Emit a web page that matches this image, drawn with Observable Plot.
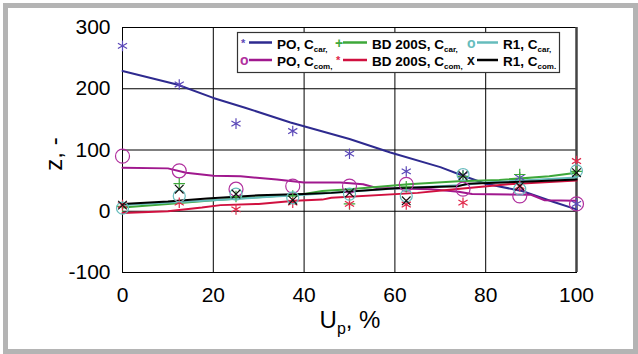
<!DOCTYPE html>
<html>
<head>
<meta charset="utf-8">
<script src="https://cdn.jsdelivr.net/npm/d3@7"></script>
<script src="https://cdn.jsdelivr.net/npm/@observablehq/plot@0.6"></script>
<style>
  html, body { margin: 0; padding: 0; background: #fff; }
  #wrap { position: relative; width: 638px; height: 354px; overflow: hidden; background: #fff; }
  #frame { position: absolute; left: 3px; top: 3px; width: 635px; height: 351px; box-sizing: border-box; border: 5px solid #b4b4b4; }
  #chart, #overlay { position: absolute; left: 0; top: 0; }
</style>
</head>
<body>
<div id="wrap">
  <div id="frame"></div>
  <div id="chart"></div>
  <svg id="overlay" width="638" height="354"></svg>
</div>
<script>
// ---- data ----
const xTicks = [0, 20, 40, 60, 80, 100];
const yTicks = [-100, 0, 100, 200, 300];
const markerX = [0, 12.5, 25, 37.5, 50, 62.5, 75, 87.5, 100];

// measured points (markers)
const poCarPts  = [270, 207, 143, 131, 94, 65, 59, 55, 12];
const poComPts  = [90, 66, 36, 41, 41, 44, 36, 25, 12];
const bdCarPts  = [8, 45, 24, 25, 12, 40, 57, 60, 65];
const bdComPts  = [10, 14, 3, 14, 12, 11, 14, 41, 82];
const r1CarPts  = [5, 25, 28, 22, 28, 25, 60, 36, 66];
const r1ComPts  = [10, 36, 28, 18, 30, 17, 58, 41, 63];

// model lines
const poCarLineX = [0, 12, 20, 27, 37, 50, 59, 70, 75, 80, 88, 95, 100];
const poCarLineY = [229, 207, 185, 169, 145, 118, 96, 72, 58, 45, 33, 15, 3];
const poComLineX = [0, 10, 14, 20, 26, 34, 40, 48, 53, 56, 68, 74, 77, 90, 93, 100];
const poComLineY = [71, 70, 63, 58, 57, 52, 47, 47, 44, 38, 36, 32, 28, 27, 18, 17];
const bdCarLineX = [0, 10, 20, 30, 40, 44, 50, 63, 74, 83, 94, 100];
const bdCarLineY = [6, 12, 18, 23, 28, 33, 36, 44, 49, 51, 57, 63];
const bdComLineX = [0, 10, 17.5, 21.6, 30, 38, 44, 46, 65, 72, 85, 100];
const bdComLineY = [-3, 0, 6, 10, 12, 17, 19, 22, 30, 35, 44, 50];
const r1CarLineX = [0, 20, 40, 60, 75, 80, 100];
const r1CarLineY = [10, 18, 27, 37, 43, 47, 55];
const r1ComLineX = [0, 10, 18.6, 30, 40, 46, 61, 74, 76, 91, 100];
const r1ComLineY = [12, 16, 21, 26, 28, 30, 38, 41, 45, 49, 52];

const seriesNames = ["PO", "PO", "BD 200S", "BD 200S", "R1", "R1"];
const seriesSubs  = ["car", "com", "car", "com", "car", "com"];
const seriesEnds  = [",", ",", ",", ",", ",", "."];
const legendGlyphs = ["*", "o", "+", "*", "o", "x"];

const xTitle = ["U", "p", ", %"];
const yTitle = "z, -";

// ---- styles ----
const series = [
  {pts: poCarPts, lx: poCarLineX, ly: poCarLineY, line: "#2e2a8f", mark: "#5b48b8", symbol: "asterisk", r: 5},
  {pts: poComPts, lx: poComLineX, ly: poComLineY, line: "#a0188e", mark: "#b0309e", symbol: "circle", r: 7},
  {pts: bdCarPts, lx: bdCarLineX, ly: bdCarLineY, line: "#3ea83a", mark: "#3ea83a", symbol: "plus", r: 3.8},
  {pts: bdComPts, lx: bdComLineX, ly: bdComLineY, line: "#d0103f", mark: "#e0284a", symbol: "asterisk", r: 5},
  {pts: r1CarPts, lx: r1CarLineX, ly: r1CarLineY, line: "#66bcbc", mark: "#66bcbc", symbol: "circle", r: 6},
  {pts: r1ComPts, lx: r1ComLineX, ly: r1ComLineY, line: "#000000", mark: "#111111", symbol: "times", r: 4}
];

const lineOrder = [0, 1, 2, 4, 3, 5];
const marks = [
  Plot.ruleX(xTicks, {stroke: "#000", strokeWidth: 1}),
  Plot.ruleY(yTicks, {stroke: "#000", strokeWidth: 1}),
  Plot.frame({stroke: "#000"}),
  Plot.ruleX([100], {stroke: "#444", strokeWidth: 2.5})
];
for (const i of lineOrder) {
  const s = series[i];
  marks.push(Plot.line(s.lx.map((x, k) => ({x, y: s.ly[k]})), {x: "x", y: "y", stroke: s.line, strokeWidth: 2}));
}
for (const s of series) {
  marks.push(Plot.dot(markerX.map((x, k) => ({x, y: s.pts[k]})), {
    x: "x", y: "y", symbol: s.symbol, r: s.r, stroke: s.mark, fill: "none", strokeWidth: 1.2
  }));
}
marks.push(Plot.axisX({ticks: xTicks, tickSize: 0, tickPadding: 15, fontSize: 21, label: null, tickFormat: d => String(d)}));
marks.push(Plot.axisY({ticks: yTicks, tickSize: 0, tickPadding: 12, fontSize: 21, label: null, tickFormat: d => String(d)}));

const chart = Plot.plot({
  width: 638, height: 354,
  marginLeft: 122, marginRight: 62, marginTop: 27, marginBottom: 82,
  x: {domain: [0, 100]},
  y: {domain: [-100, 300]},
  style: {fontFamily: "'Liberation Sans', Arial, sans-serif", background: "transparent", color: "#000"},
  marks
});
document.getElementById("chart").appendChild(chart);

// ---- overlay: axis titles and legend ----
const ov = d3.select("#overlay").style("font-family", "'Liberation Sans', Arial, sans-serif");

const xt = ov.append("text").attr("x", 350).attr("y", 328).attr("text-anchor", "middle").attr("font-size", 24);
xt.append("tspan").text(xTitle[0]);
xt.append("tspan").attr("font-size", 16).attr("dy", 6).text(xTitle[1]);
xt.append("tspan").attr("dy", -6).text(xTitle[2]);

ov.append("text").attr("transform", "translate(62,154) rotate(-90)").attr("text-anchor", "middle")
  .attr("font-size", 24).text(yTitle);

ov.append("rect").attr("x", 237.5).attr("y", 32.5).attr("width", 322).attr("height", 40)
  .attr("fill", "#fff").attr("stroke", "#333").attr("stroke-width", 1.2);

const colX = [240, 335, 467];
const lineX0 = [249, 343, 477];
const lineX1 = [272, 367, 498];
const textX = [277, 372, 503];
const rowBase = [48.5, 66];
const rowLine = [42.5, 60];
for (let i = 0; i < 6; i++) {
  const col = Math.floor(i / 2), row = i % 2;
  const s = series[i];
  const g = legendGlyphs[i];
  const small = g === "*";
  ov.append("text").attr("x", colX[col] + (small ? 1 : 0)).attr("y", small ? rowBase[row] - 2 : rowBase[row] - 1)
    .attr("font-size", small ? 11 : 14).attr("font-weight", "bold").attr("fill", s.mark).text(g);
  ov.append("line").attr("x1", lineX0[col]).attr("x2", lineX1[col]).attr("y1", rowLine[row]).attr("y2", rowLine[row])
    .attr("stroke", s.line).attr("stroke-width", 2.5);
  const t = ov.append("text").attr("x", textX[col]).attr("y", rowBase[row]).attr("font-size", 13.5).attr("font-weight", "bold");
  t.append("tspan").text(seriesNames[i] + ", C");
  t.append("tspan").attr("font-size", 8).attr("dy", 3).text(seriesSubs[i]);
  t.append("tspan").attr("font-size", 8).text(seriesEnds[i]);
}
</script>
</body>
</html>
